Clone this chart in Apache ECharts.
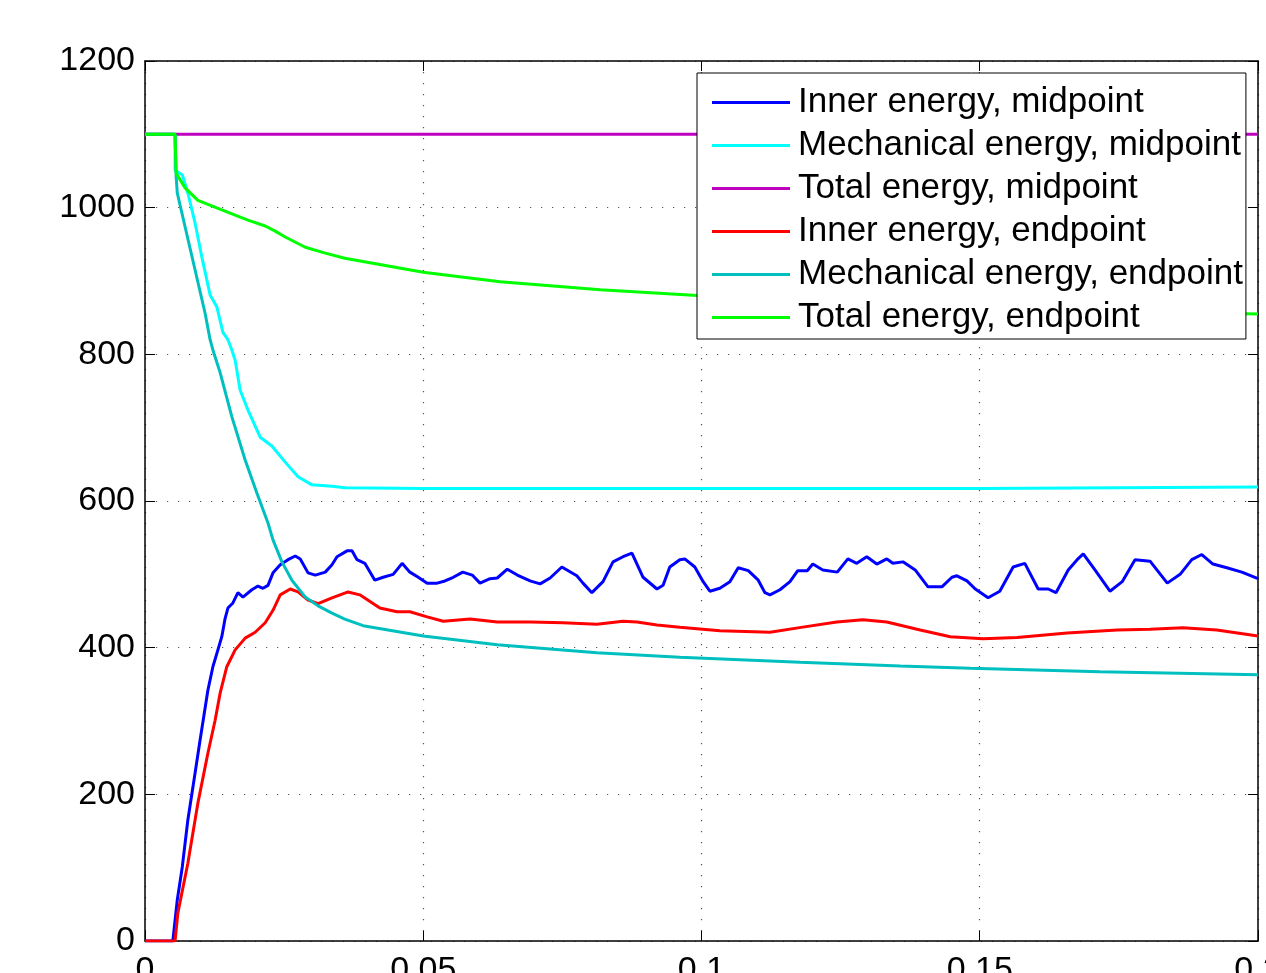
<!DOCTYPE html>
<html>
<head>
<meta charset="utf-8">
<script src="https://cdn.jsdelivr.net/npm/echarts@6/dist/echarts.min.js"></script>
<style>
html,body{margin:0;padding:0;background:#fff;}
#chart{width:1266px;height:973px;}
</style>
</head>
<body>
<div id="chart"></div>
<script>
// ---- data (time [s], energy) ----
const seriesNames = [
  'Inner energy, midpoint',
  'Mechanical energy, midpoint',
  'Total energy, midpoint',
  'Inner energy, endpoint',
  'Mechanical energy, endpoint',
  'Total energy, endpoint'
];
const xTicks = [0, 0.05, 0.1, 0.15, 0.2];
const yTicks = [0, 200, 400, 600, 800, 1000, 1200];

const innerMid = [[0,0],[0.0050,0],[0.0058,56],[0.0067,101],[0.0077,165],[0.0090,229],[0.0099,274],[0.0113,342],[0.0122,374],[0.0131,397],[0.0138,415],[0.0144,440],[0.0149,454],[0.0158,461],[0.0167,475],[0.0176,469],[0.0192,479],[0.0203,484],[0.0212,481],[0.0221,485],[0.0230,502],[0.0243,513],[0.0257,520],[0.0270,525],[0.0279,521],[0.0293,502],[0.0306,499],[0.0324,503],[0.0336,513],[0.0345,524],[0.0363,532],[0.0372,532],[0.0381,520],[0.0395,515],[0.0413,492],[0.0428,496],[0.0446,500],[0.0462,515],[0.0476,503],[0.0491,496],[0.0507,488],[0.0525,488],[0.0539,491],[0.0554,496],[0.0571,503],[0.0588,499],[0.0602,488],[0.0620,494],[0.0633,495],[0.0651,507],[0.0669,499],[0.0692,491],[0.0710,487],[0.0728,495],[0.0749,510],[0.0776,498],[0.0787,488],[0.0803,475],[0.0823,490],[0.0841,517],[0.0859,524],[0.0875,529],[0.0895,496],[0.0920,480],[0.0931,485],[0.0943,510],[0.0961,520],[0.0970,521],[0.0988,510],[0.1003,490],[0.1015,477],[0.1033,481],[0.1051,490],[0.1066,509],[0.1084,505],[0.1102,492],[0.1114,475],[0.1123,472],[0.1141,479],[0.1159,490],[0.1173,505],[0.1190,505],[0.1200,514],[0.1218,506],[0.1244,503],[0.1263,521],[0.1279,515],[0.1297,524],[0.1315,514],[0.1333,521],[0.1344,515],[0.1362,517],[0.1384,506],[0.1407,483],[0.1432,483],[0.1450,496],[0.1459,498],[0.1477,491],[0.1492,480],[0.1515,468],[0.1536,477],[0.1560,510],[0.1581,515],[0.1605,480],[0.1623,480],[0.1637,475],[0.1659,506],[0.1675,520],[0.1686,528],[0.1707,506],[0.1734,477],[0.1756,490],[0.1779,520],[0.1806,518],[0.1837,488],[0.1860,500],[0.1881,520],[0.1899,527],[0.1919,514],[0.1944,509],[0.1971,503],[0.2,494]];

const mechMid = [[0,1100],[0.0054,1100],[0.0054,1051],[0.0067,1045],[0.0077,1020],[0.0090,979],[0.0102,933],[0.0117,881],[0.0129,865],[0.0140,830],[0.0149,820],[0.0156,806],[0.0162,792],[0.0171,751],[0.0185,724],[0.0207,687],[0.0228,675],[0.0252,653],[0.0275,633],[0.0300,622],[0.0336,620],[0.0359,618],[0.05,617],[0.1,617],[0.15,617],[0.2,619]];

const totalMid = [[0,1100],[0.2,1100]];

const innerEnd = [[0,0],[0.0054,0],[0.0059,38],[0.0077,106],[0.0095,188],[0.0113,256],[0.0126,301],[0.0135,338],[0.0147,374],[0.0162,397],[0.0180,413],[0.0198,421],[0.0216,434],[0.0230,451],[0.0243,472],[0.0261,480],[0.0275,476],[0.0293,465],[0.0311,460],[0.0336,468],[0.0365,476],[0.0386,472],[0.0422,454],[0.0453,449],[0.0476,449],[0.0507,442],[0.0536,436],[0.0584,439],[0.0633,435],[0.0692,435],[0.0751,434],[0.0812,432],[0.0859,436],[0.0884,435],[0.0920,431],[0.0961,428],[0.1033,423],[0.1123,421],[0.1182,428],[0.1243,435],[0.1290,438],[0.1333,435],[0.1393,424],[0.1447,415],[0.1506,412],[0.1567,414],[0.1657,420],[0.1747,424],[0.1806,425],[0.1865,427],[0.1926,424],[0.2,416]];

const mechEnd = [[0,1100],[0.0054,1100],[0.0056,1042],[0.0058,1020],[0.0072,974],[0.0090,915],[0.0108,856],[0.0117,820],[0.0122,806],[0.0135,775],[0.0156,715],[0.0180,656],[0.0201,611],[0.0221,570],[0.0230,547],[0.0246,517],[0.0264,492],[0.0288,469],[0.0311,457],[0.0336,447],[0.0359,439],[0.0392,430],[0.0500,416],[0.0633,404],[0.0812,393],[0.0961,387],[0.1177,380],[0.1357,375],[0.1483,372],[0.1716,367],[0.2,363]];

const totalEnd = [[0,1100],[0.0054,1100],[0.0056,1047],[0.0072,1027],[0.0095,1010],[0.0138,997],[0.0185,983],[0.0216,975],[0.0234,968],[0.0252,960],[0.0288,946],[0.0324,938],[0.0359,931],[0.05,912],[0.0638,899],[0.0818,888],[0.1,880],[0.12,873],[0.14,867],[0.16,862],[0.18,858],[0.2,855]];

const seriesData = [innerMid, mechMid, totalMid, innerEnd, mechEnd, totalEnd];
const colors = ['#0000FF', '#00FFFF', '#BF00BF', '#FF0000', '#00BFBF', '#00FF00'];

const FONT = "'Liberation Sans', Arial, Helvetica, sans-serif";
const chart = echarts.init(document.getElementById('chart'), null, {renderer: 'canvas'});

const tickStyle = {show: true, inside: true, length: 10, lineStyle: {color: '#000', width: 1}};
const axisLineStyle = {show: true, onZero: false, lineStyle: {color: '#000', width: 1.5}};
const gridLine = {show: true, lineStyle: {color: '#555', width: 1.2, type: [1.2, 9.8]}};

chart.setOption({
  animation: false,
  backgroundColor: '#fff',
  color: colors,
  grid: {left: 145, top: 61, right: 8, bottom: 32, containLabel: false, outerBoundsMode: 'none'},
  legend: {
    show: true,
    z: 50,
    orient: 'vertical',
    left: 697, top: 73,
    backgroundColor: '#fff',
    borderColor: '#000', borderWidth: 1,
    padding: [8, 3, 0, 15],
    itemGap: 0,
    itemWidth: 78, itemHeight: 3,
    icon: 'rect',
    textStyle: {fontSize: 35, fontFamily: FONT, color: '#000', lineHeight: 43, padding: [0, 0, 0, 3]},
    data: seriesNames
  },
  xAxis: [{
    type: 'value', min: 0, max: 0.2, interval: 0.05, position: 'bottom',
    axisLine: axisLineStyle, axisTick: tickStyle,
    axisLabel: {fontSize: 34, fontFamily: FONT, color: '#000', margin: 13,
      formatter: v => { const t = xTicks.find(x => Math.abs(x - v) < 1e-9); return t === undefined ? '' : String(t); }},
    splitLine: gridLine
  }, {
    type: 'value', min: 0, max: 0.2, interval: 0.05, position: 'top',
    axisLine: axisLineStyle, axisTick: tickStyle, axisLabel: {show: false}, splitLine: {show: false}
  }],
  yAxis: [{
    type: 'value', min: 0, max: 1200, interval: 200, position: 'left',
    axisLine: axisLineStyle, axisTick: tickStyle,
    axisLabel: {fontSize: 34, fontFamily: FONT, color: '#000', margin: 10, padding: [4, 0, 0, 0],
      formatter: v => { const t = yTicks.find(x => x === v); return t === undefined ? '' : String(t); }},
    splitLine: gridLine
  }, {
    type: 'value', min: 0, max: 1200, interval: 200, position: 'right',
    axisLine: axisLineStyle, axisTick: tickStyle, axisLabel: {show: false}, splitLine: {show: false}
  }],
  series: seriesNames.map((name, i) => ({
    name: name,
    type: 'line',
    data: seriesData[i],
    showSymbol: false,
    symbol: 'none',
    lineStyle: {width: 3, color: colors[i]},
    itemStyle: {color: colors[i]},
    clip: true,
    z: 2 + i
  }))
});
</script>
</body>
</html>
